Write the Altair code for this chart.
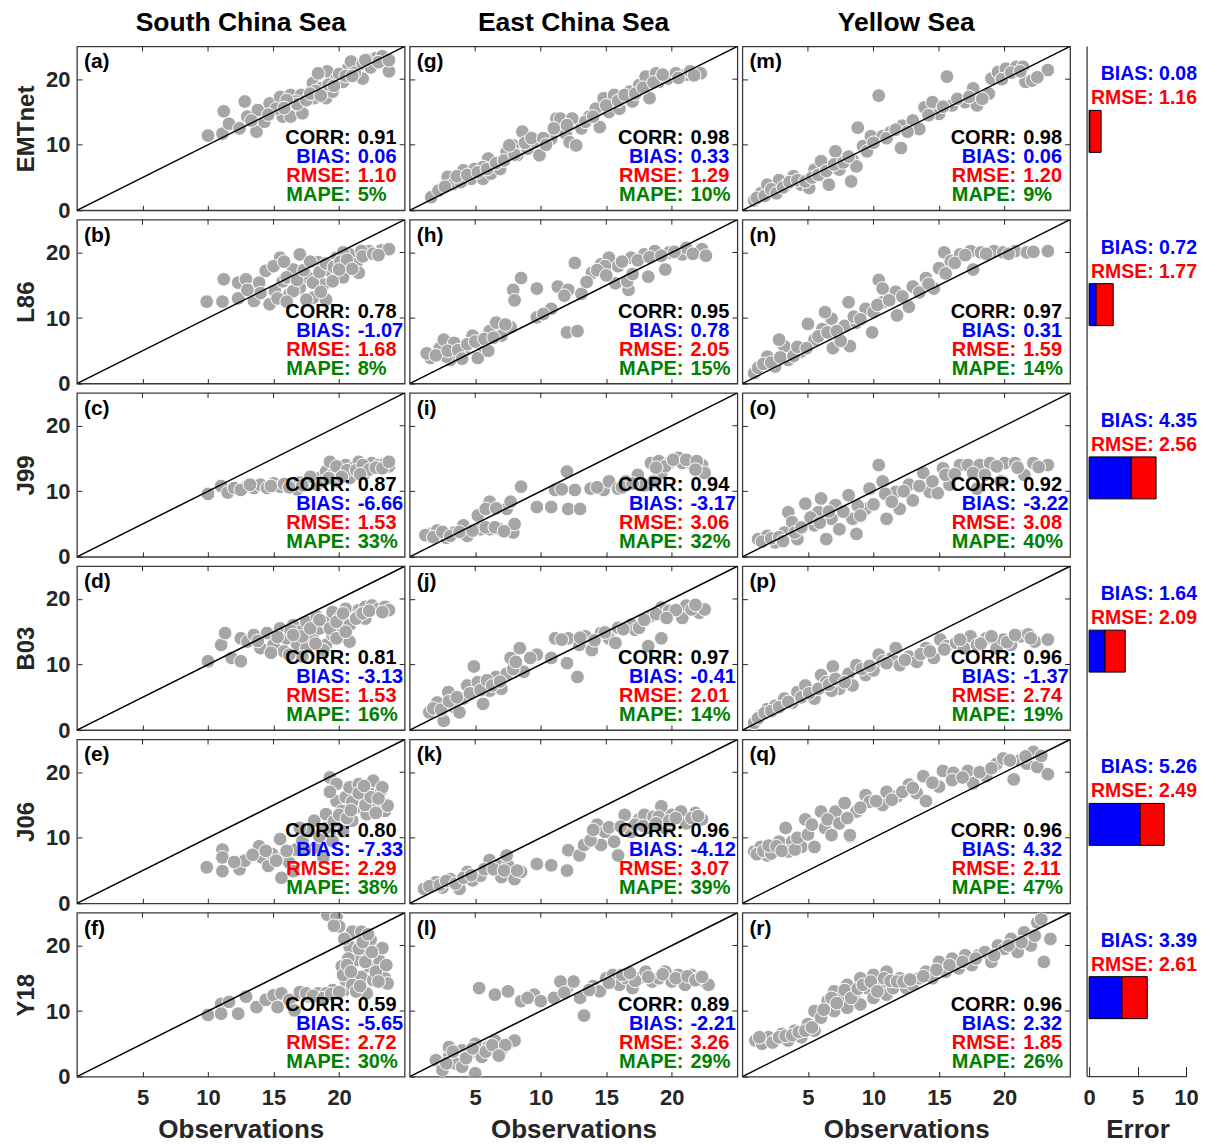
import altair as alt
import pandas as pd

# ---------------- data ----------------
REGIONS = ["South China Sea", "East China Sea", "Yellow Sea"]
MODELS = ["EMTnet", "L86", "J99", "B03", "J06", "Y18"]
LETTERS = [
    ["(a)", "(b)", "(c)", "(d)", "(e)", "(f)"],
    ["(g)", "(h)", "(i)", "(j)", "(k)", "(l)"],
    ["(m)", "(n)", "(o)", "(p)", "(q)", "(r)"],
]

CORR = [[0.91, 0.78, 0.87, 0.81, 0.80, 0.59],
        [0.98, 0.95, 0.94, 0.97, 0.96, 0.89],
        [0.98, 0.97, 0.92, 0.96, 0.96, 0.96]]
BIAS = [[0.06, -1.07, -6.66, -3.13, -7.33, -5.65],
        [0.33, 0.78, -3.17, -0.41, -4.12, -2.21],
        [0.06, 0.31, -3.22, -1.37, 4.32, 2.32]]
RMSE = [[1.10, 1.68, 1.53, 1.53, 2.29, 2.72],
        [1.29, 2.05, 3.06, 2.01, 3.07, 3.26],
        [1.20, 1.59, 3.08, 2.74, 2.11, 1.85]]
MAPE = [[5, 8, 33, 16, 38, 30],
        [10, 15, 32, 14, 39, 29],
        [9, 14, 40, 19, 47, 26]]

TOTAL_BIAS = [0.08, 0.72, 4.35, 1.64, 5.26, 3.39]
TOTAL_RMSE = [1.16, 1.77, 2.56, 2.09, 2.49, 2.61]

X_TICKS = [5, 10, 15, 20]
Y_TICKS = [0, 10, 20]
ERR_TICKS = [0, 5, 10]
DIAG = [0, 25]

SCS_EMTNET = [(10.0,11.4),(11.2,15.1),(11.1,11.7),(11.6,13.2),(12.4,12.5),(12.8,16.6),(13.0,14.3),(13.7,12.0),
              (13.8,15.3),(14.3,13.5),(14.7,16.3),(15.5,17.3),(15.7,14.3),(16.3,14.3),(16.3,17.6),(17.1,17.6),
              (17.2,14.8),(18.0,19.4),(18.1,17.1),(18.6,18.6),(19.0,17.1),(19.1,21.2),(19.8,20.1),(20.3,19.6),
              (20.7,21.7),(21.5,21.9),(21.8,20.1),(22.6,22.2),(22.8,23.2),(23.6,22.7),(23.8,21.2),(22.1,23.0),
              (20.9,22.7),(19.5,18.1),(18.4,20.9),(15.2,15.5),(16.7,16.6),(23.3,23.5),
              (16.8,16.2),(17.5,16.8),(18.2,18.2),(19.2,19.2),(20.0,20.8),(20.5,20.5),(21.2,21.0),(21.8,22.4),
              (22.4,21.8),(23.0,22.6),(23.8,22.9),(17.8,17.8),(16.0,16.8),(14.6,14.6),(15.8,15.6),(13.3,13.7),
              (19.6,19.0),(22.0,22.9),(21.0,20.5),(18.6,17.5)]
SCS_L86 = [(9.9,12.5),(11.1,12.5),(11.2,15.9),(12.3,15.4),(12.3,13.0),(12.9,15.9),(13.5,12.6),(13.9,15.4),
           (14.4,17.2),(14.7,12.1),(15.1,14.1),(15.5,19.2),(15.7,15.6),(16.2,13.6),(16.5,17.4),(17.0,19.7),
           (17.0,14.6),(17.6,16.2),(18.0,13.1),(18.4,18.5),(18.8,15.1),(19.0,12.8),(19.3,17.2),(19.8,19.2),
           (20.3,16.2),(20.8,19.7),(21.3,18.2),(21.5,16.9),(22.3,20.2),(23.2,20.3),(23.8,20.5),(21.7,20.2),
           (20.3,20.0),(18.0,15.4),(16.5,14.1),(15.0,17.9),
           (16.0,16.2),(16.8,15.8),(17.3,17.3),(17.8,18.6),(18.5,17.0),(19.0,18.3),(19.6,17.8),(20.1,18.6),
           (20.6,18.9),(21.0,17.5),(21.8,19.4),(22.6,19.8),(23.0,19.6),(14.0,13.8),(13.0,14.3),(15.3,13.0),
           (16.0,12.5),(17.5,12.8),(18.6,14.0),(19.5,15.6),(20.0,17.4),(15.8,18.6)]
SCS_J99 = [(10.0,9.6),(11.0,10.8),(11.5,9.8),(12.0,10.5),(13.0,10.8),(13.5,10.5),(14.0,11.0),(14.5,10.5),
           (15.0,11.2),(15.5,10.7),(16.0,11.0),(16.5,10.8),(17.0,11.3),(17.5,11.0),(18.0,11.8),(18.5,12.0),
           (19.0,13.0),(19.3,14.5),(19.5,12.5),(20.0,13.5),(20.3,12.8),(20.5,14.0),(21.0,13.5),(21.5,14.5),
           (21.0,12.5),(22.0,13.8),(22.5,14.3),(23.0,14.0),(23.5,14.2),(22.0,12.8),(19.8,11.5),(18.3,11.0),
           (16.8,10.3),(20.8,12.0),(23.8,13.8),(17.8,12.2),
           (12.5,10.2),(13.2,11.0),(14.8,10.8),(15.8,11.1),(16.2,10.6),(17.2,10.9),(18.8,11.5),(19.8,13.8),
           (20.6,13.2),(21.3,13.2),(21.8,14.0),(22.3,13.3),(22.8,13.6),(23.3,13.5),(23.8,14.5),(20.2,12.2),
           (19.2,12.0),(21.6,12.6)]
SCS_B03 = [(10.0,10.5),(11.0,13.0),(11.3,14.8),(11.8,11.0),(12.5,10.5),(12.5,14.0),(13.0,13.5),(13.5,14.5),
           (14.0,12.5),(14.5,14.8),(15.0,13.0),(15.5,15.5),(15.8,12.0),(16.0,14.0),(16.5,16.0),(16.8,13.0),
           (17.0,15.0),(17.5,12.5),(17.5,16.5),(18.0,14.0),(18.3,17.3),(18.5,15.5),(19.0,13.0),(19.0,16.5),
           (19.5,18.0),(19.5,14.5),(20.0,17.0),(20.2,15.8),(20.5,18.5),(20.8,13.5),(21.0,16.5),(21.5,18.3),
           (21.5,17.5),(22.0,17.0),(22.0,18.8),(22.5,19.0),(23.0,18.5),(23.5,18.8),(23.8,18.3),(17.2,11.2),
           (18.8,12.2),(16.2,11.5),(14.8,11.8),
           (15.3,14.2),(16.3,15.2),(17.2,14.3),(17.8,15.5),(18.5,16.8),(19.3,15.5),(19.8,16.5),(20.3,17.8),
           (20.8,16.0),(21.3,17.0),(21.8,17.8),(22.3,18.2),(23.3,18.0),(18.2,13.2),(19.8,14.0),(20.5,15.0),
           (16.5,14.5),(13.8,13.6)]
SCS_J06 = [(9.9,5.5),(11.1,8.2),(11.1,7.0),(11.1,4.9),(12.4,5.2),(12.8,6.5),(13.9,8.7),(14.1,7.0),
           (14.6,5.7),(14.9,7.5),(15.5,9.8),(15.6,3.9),(15.8,7.0),(16.2,6.2),(16.5,4.9),(16.7,8.2),
           (17.2,9.5),(17.7,11.0),(18.1,12.6),(18.2,8.5),(18.8,7.0),(19.0,13.6),(19.3,19.2),(19.5,11.0),
           (19.8,18.2),(19.8,15.6),(20.2,14.1),(20.5,16.2),(20.8,17.7),(21.0,12.6),(21.3,14.6),(21.5,18.2),
           (21.8,16.2),(22.1,13.6),(22.3,17.4),(22.6,18.7),(22.8,15.1),(23.2,17.2),(23.3,17.7),(23.5,14.1),
           (23.7,14.9),(20.3,11.0),(19.5,9.5),(17.0,11.5),
           (12.0,6.3),(13.4,7.4),(14.4,8.0),(15.2,6.5),(16.0,8.0),(17.4,8.2),(18.5,10.2),(19.0,11.5),
           (19.6,12.5),(20.0,13.5),(20.6,13.0),(21.0,15.5),(21.5,16.8),(22.0,15.0),(22.4,16.2),(23.0,16.0),
           (22.8,13.8),(20.9,14.2),(19.3,17.0),(21.9,17.9)]
SCS_Y18 = [(10.0,9.4),(11.0,11.1),(11.0,9.6),(11.6,11.4),(12.3,9.6),(12.9,12.2),(13.7,10.6),(14.4,11.7),
           (15.0,12.4),(15.3,10.6),(15.6,12.7),(16.2,11.7),(16.6,10.1),(17.0,12.9),(17.7,12.2),(18.4,12.7),
           (19.1,24.7),(19.8,24.4),(20.0,22.9),(20.2,16.8),(20.4,13.2),(20.5,14.7),(20.8,19.8),(21.0,22.1),
           (21.2,17.8),(21.7,22.1),(21.7,15.2),(21.9,18.8),(22.1,12.7),(22.3,16.8),(22.4,20.9),(22.6,14.7),
           (23.1,17.6),(23.3,19.6),(23.5,15.0),(23.7,14.2),(21.4,17.8),(20.7,18.0),(19.5,13.2),(19.0,12.7),
           (17.5,12.7),(18.0,12.3),(18.8,12.0),(19.4,12.6),(20.0,12.9),(20.3,15.5),(20.6,17.0),(21.0,14.0),
           (21.3,13.0),(21.5,19.5),(21.8,20.5),(22.0,17.5),(22.2,21.7),(22.8,16.0),(23.0,14.5),(23.6,17.0),
           (20.9,16.0),(21.6,13.8),(22.5,19.0),(19.6,23.0),(20.4,21.0)]

ECS_EMTNET = [(1.65,2.0),(2.2,3.0),(2.9,5.1),(3.3,4.0),(4.1,6.1),(4.7,4.8),(4.95,6.3),(5.6,4.8),(6.0,7.9),
              (6.2,5.6),(6.9,6.3),(7.4,8.9),(7.9,9.9),(8.2,8.4),(8.6,12.0),(9.0,9.4),(9.6,10.4),(9.9,8.4),
              (10.8,10.9),(11.2,14.0),(11.5,14.0),(11.9,11.7),(12.2,10.4),(12.7,9.9),(12.4,14.0),(13.1,12.5),
              (13.7,14.3),(14.2,15.5),(14.5,12.7),(14.8,17.1),(15.2,15.0),(15.6,17.6),(16.0,15.5),(16.8,18.1),
              (17.0,16.6),(17.5,19.1),(18.0,20.4),(18.3,17.1),(18.8,20.9),(19.0,19.6),(19.7,20.1),(20.3,20.9),
              (21.1,20.7),(21.4,21.2),(22.2,20.9),(5.6,6.6),(3.9,4.3),
              (2.7,3.6),(3.6,5.2),(4.4,5.4),(5.2,5.8),(5.9,6.3),(6.6,7.2),(7.2,7.6),(8.0,8.5),(8.8,10.3),
              (9.3,11.0),(10.2,11.0),(11.0,12.5),(12.0,13.0),(13.4,13.5),(14.0,14.3),(15.0,16.0),(15.9,16.7),
              (16.4,17.6),(17.2,17.8),(17.8,18.7),(18.6,19.5),(19.3,20.7),(20.5,20.2),(21.7,20.6),(7.6,9.9),
              (10.4,10.0)]
ECS_L86 = [(1.6,3.9),(2.3,5.4),(2.6,6.7),(3.1,3.6),(3.4,6.2),(4.1,4.9),(4.8,7.3),(5.2,3.9),(5.6,5.7),
           (6.1,8.0),(6.6,9.3),(7.0,7.3),(7.7,8.6),(7.9,14.3),(8.0,12.7),(8.5,16.1),(9.7,14.5),(9.7,10.1),
           (10.8,11.4),(11.3,14.8),(12.0,7.8),(12.1,14.3),(12.6,18.4),(12.8,8.0),(13.1,13.7),(13.9,16.9),
           (14.6,18.2),(15.2,19.2),(15.7,15.3),(15.9,17.9),(16.7,14.3),(16.9,19.2),(17.9,19.7),(18.2,16.3),
           (18.7,20.2),(19.5,17.4),(19.8,20.0),(20.8,19.7),(21.1,20.7),(22.1,20.0),(22.3,20.5),(14.9,17.9),
           (16.6,15.6),(2.8,4.1),
           (1.3,4.6),(2.0,4.3),(2.9,5.0),(3.7,5.1),(4.4,6.0),(5.0,6.4),(5.7,6.8),(6.4,7.0),(6.0,5.0),
           (4.0,3.8),(7.3,9.0),(10.2,10.6),(11.8,13.4),(13.5,15.5),(14.3,17.3),(15.0,16.5),(16.2,18.6),
           (17.4,18.8),(18.3,19.3),(19.2,19.5),(20.2,20.1),(21.6,19.8),(22.6,19.5),(17.0,16.7)]
ECS_J99 = [(1.5,3.5),(2.1,4.0),(2.8,2.9),(3.4,3.7),(4.4,3.2),(5.2,6.3),(5.4,4.2),(6.1,8.4),(6.1,4.2),
           (6.9,4.2),(7.4,7.3),(7.7,8.4),(7.9,3.7),(8.5,10.7),(9.7,7.6),(10.8,7.6),(11.1,10.2),(12.0,13.0),
           (12.1,7.3),(12.6,10.2),(13.0,7.3),(13.8,10.4),(14.8,10.2),(15.2,11.5),(15.9,10.4),(16.5,11.5),
           (17.4,12.5),(17.9,10.9),(18.4,14.3),(19.0,14.6),(19.2,12.8),(19.8,14.3),(20.5,15.1),(20.8,14.3),
           (21.5,14.3),(22.3,14.0),(22.5,12.8),(4.1,4.8),(8.0,5.0),
           (1.2,3.3),(1.8,3.0),(2.5,3.8),(3.1,3.2),(3.8,3.8),(4.8,4.0),(5.8,4.5),(6.5,4.5),(7.2,3.9),
           (5.8,7.3),(6.6,7.4),(11.6,10.3),(14.3,10.6),(16.2,10.6),(17.0,11.2),(18.6,11.5),(19.5,13.8),
           (20.1,14.8),(21.1,14.8),(21.9,14.6),(21.8,13.3),(18.8,13.6)]
ECS_B03 = [(1.5,2.7),(2.1,4.2),(2.6,1.4),(2.95,5.8),(3.4,3.5),(4.1,4.8),(4.4,6.8),(4.9,9.7),(5.2,7.3),
           (5.6,4.0),(6.1,6.0),(6.6,8.1),(7.0,6.3),(7.4,8.6),(7.7,11.0),(8.4,12.5),(8.7,8.9),(9.7,11.5),
           (10.8,11.0),(11.1,14.0),(12.0,10.2),(12.1,14.0),(12.8,8.1),(12.95,13.0),(13.4,14.3),(13.9,12.2),
           (14.6,14.8),(15.2,14.0),(15.7,13.3),(15.9,15.6),(16.9,16.1),(18.2,12.8),(18.4,17.4),(19.2,14.0),
           (19.2,18.7),(19.8,18.2),(20.8,17.1),(21.1,19.0),(22.1,17.9),(22.5,18.4),(17.2,15.3),(3.8,2.7),
           (1.8,3.3),(2.4,3.1),(3.0,4.4),(3.6,5.0),(4.6,5.6),(5.4,6.1),(5.9,7.6),(6.3,6.8),(6.9,7.4),
           (7.9,9.3),(8.1,10.4),(9.2,11.0),(11.6,13.8),(13.0,14.1),(14.1,13.7),(14.9,14.9),(16.3,15.4),
           (17.5,15.6),(17.9,16.8),(18.8,17.7),(20.3,18.3),(21.5,18.4),(21.8,19.1),(19.6,17.1)]
ECS_J06 = [(1.1,2.2),(2.0,3.2),(2.5,2.4),(3.1,3.7),(3.8,2.2),(4.4,4.8),(4.8,3.5),(5.4,4.2),(6.1,6.6),
           (6.7,5.8),(7.0,4.0),(7.5,5.8),(8.0,3.7),(8.5,4.8),(9.7,6.0),(10.8,5.8),(12.0,5.0),(12.1,8.1),
           (12.95,7.3),(13.3,8.9),(14.3,12.0),(14.6,8.9),(14.9,10.9),(15.6,9.4),(15.9,7.3),(16.4,13.5),
           (16.9,10.9),(17.5,12.8),(18.2,11.5),(19.2,14.8),(19.5,11.5),(20.0,13.5),(20.7,14.0),(21.1,12.2),
           (21.8,13.8),(22.3,12.8),(17.9,13.5),(7.4,7.3),
           (1.5,2.6),(2.3,2.8),(2.8,3.4),(3.5,3.0),(4.1,3.9),(4.7,4.3),(5.7,5.2),(6.4,5.2),(7.2,5.0),
           (8.2,5.0),(13.8,9.6),(14.0,11.2),(15.2,11.6),(16.1,11.7),(17.2,12.0),(17.8,11.8),(18.6,13.2),
           (19.0,13.2),(19.8,12.6),(20.3,13.0),(21.5,13.0),(22.0,13.3),(18.8,12.2)]
ECS_Y18 = [(2.0,2.5),(2.5,1.0),(3.0,3.0),(3.5,2.0),(4.0,4.0),(4.5,3.5),(5.0,0.5),(5.0,5.0),(5.5,3.0),
           (6.0,4.5),(6.5,5.5),(7.0,4.0),(7.5,5.0),(8.0,5.5),(3.0,4.5),(4.0,1.5),(5.3,13.5),(6.5,12.5),
           (7.5,13.0),(8.5,11.5),(9.5,12.5),(10.0,11.5),(11.0,12.0),(12.0,13.5),(12.5,14.5),(13.0,12.0),
           (13.3,9.3),(14.0,13.8),(14.5,13.0),(15.0,15.0),(15.5,15.5),(16.0,14.0),(16.5,15.0),(17.0,13.5),
           (17.5,15.0),(18.0,16.0),(18.5,14.5),(19.0,15.0),(19.5,16.0),(20.0,14.5),(20.5,15.5),(21.0,14.0),
           (21.5,15.5),(22.0,15.0),(22.5,14.5),(22.8,14.0),(11.5,14.5),
           (2.8,2.0),(3.3,3.8),(4.3,2.8),(4.8,4.3),(5.8,3.8),(6.3,4.8),(7.3,4.8),(6.8,3.2),(13.7,13.2),
           (15.2,14.3),(16.2,15.5),(17.2,14.6),(18.2,15.2),(19.3,15.6),(20.3,15.0),(21.2,15.3),(21.8,14.7),
           (22.3,15.2),(9.0,12.0),(11.8,12.8),(16.8,15.8)]

YS_EMTNET = [(0.9,1.5),(1.4,2.6),(1.9,3.9),(2.5,3.1),(2.8,4.6),(3.4,3.9),(3.9,5.2),(4.5,3.9),(5.1,3.4),
             (5.5,6.2),(6.0,7.5),(6.2,5.2),(6.6,3.9),(7.1,9.0),(7.4,6.2),(8.3,4.4),(8.4,7.7),(8.8,12.6),
             (9.2,9.8),(9.8,11.3),(10.4,17.5),(10.7,11.3),(11.3,11.9),(12.1,9.5),(12.2,12.9),(13.0,13.7),
             (13.5,12.4),(13.9,15.7),(14.5,16.5),(15.0,14.7),(15.6,20.4),(16.0,16.0),(17.0,16.5),(17.6,18.6),
             (17.9,16.0),(18.8,17.8),(19.0,20.1),(19.5,21.1),(20.1,21.6),(20.9,21.9),(21.6,19.6),(22.1,19.8),
             (23.3,21.4),(21.4,21.9),(8.7,6.7),
             (1.1,1.9),(1.7,2.2),(2.2,3.2),(2.6,2.6),(3.1,3.5),(3.6,4.3),(4.2,4.6),(4.8,4.4),(5.3,5.0),
             (5.8,5.4),(6.4,6.0),(7.0,7.0),(7.7,7.3),(8.1,8.2),(9.5,9.0),(10.0,10.3),(11.0,11.0),(11.7,12.3),
             (12.6,12.0),(14.2,14.5),(15.3,15.8),(16.4,17.0),(17.3,17.3),(18.3,17.0),(19.8,20.0),(20.5,21.0),
             (21.2,21.2),(22.5,20.3)]
YS_L86 = [(0.9,1.6),(1.9,4.1),(2.5,2.6),(3.2,5.7),(3.5,3.6),(4.5,4.9),(5.0,9.1),(5.5,6.7),(6.1,8.3),
          (6.8,9.9),(6.9,5.4),(7.8,8.8),(8.2,5.7),(8.7,9.3),(9.4,11.4),(9.9,7.8),(10.0,10.9),(10.4,15.8),
          (10.7,12.4),(11.7,14.0),(11.8,10.4),(12.7,11.7),(13.0,14.8),(14.0,16.1),(14.6,14.5),(15.0,17.6),
          (15.4,20.0),(15.9,18.7),(16.6,19.7),(17.4,20.2),(17.6,17.4),(18.2,20.0),(19.2,20.2),(19.9,20.0),
          (20.8,20.2),(21.7,20.0),(23.3,20.2),(8.1,12.4),(10.7,14.5),(2.8,6.7),(6.3,10.9),
          (1.2,2.4),(1.6,3.0),(2.2,3.2),(2.9,4.0),(3.9,4.2),(4.2,5.6),(4.9,5.4),(5.8,7.2),(6.5,7.8),
          (7.2,8.0),(7.5,6.5),(8.5,10.2),(9.0,9.8),(10.3,12.0),(11.2,12.7),(12.2,13.3),(13.5,13.9),
          (14.2,15.2),(15.5,16.8),(16.2,18.4),(17.0,19.6),(18.6,19.8),(20.3,19.8),(22.2,20.1)]
YS_J99 = [(1.2,2.7),(1.9,3.2),(2.5,2.2),(3.2,3.7),(3.5,6.8),(3.8,5.3),(4.2,2.7),(4.8,8.1),(5.5,4.8),
          (5.8,6.8),(6.0,8.9),(6.4,2.7),(6.8,5.8),(7.1,7.9),(7.4,4.2),(8.1,9.4),(8.4,5.8),(9.4,7.3),
          (9.7,10.4),(10.4,14.0),(10.7,11.5),(11.0,5.8),(11.7,9.9),(12.0,7.3),(12.7,11.0),(13.0,8.6),
          (13.8,12.8),(14.3,9.9),(14.9,9.7),(15.3,13.5),(15.8,11.0),(16.6,14.0),(17.2,14.0),(18.1,14.0),
          (18.9,14.3),(19.7,11.5),(20.0,14.3),(20.8,14.3),(21.5,12.5),(22.2,14.3),(23.3,14.0),(17.9,10.4),
          (8.7,3.5),
          (1.5,2.3),(2.2,2.8),(2.8,3.0),(3.1,2.4),(4.0,3.7),(4.5,4.5),(5.2,6.0),(5.9,5.2),(6.6,6.9),
          (7.7,6.9),(8.8,7.8),(9.0,6.3),(10.0,8.0),(10.9,9.6),(11.4,8.4),(12.3,10.0),(13.5,10.8),
          (14.5,11.5),(15.5,12.5),(16.2,12.6),(17.6,12.8),(18.5,12.5),(19.4,13.8),(21.0,13.6),(22.6,13.7)]
YS_B03 = [(0.9,1.1),(1.4,2.2),(1.9,3.2),(2.5,3.7),(3.2,4.8),(3.8,4.2),(4.2,5.8),(4.8,6.8),(5.5,4.8),
          (6.0,8.4),(6.4,7.3),(6.9,9.7),(7.4,6.3),(8.1,8.6),(8.4,6.8),(8.7,9.9),(9.4,8.4),(10.0,9.1),
          (10.4,11.5),(11.4,11.0),(12.0,9.9),(12.7,11.2),(13.3,10.4),(14.0,12.5),(14.6,11.0),(15.1,13.8),
          (15.6,12.8),(16.3,13.3),(16.9,12.5),(17.4,14.3),(17.9,13.0),(18.6,14.0),(19.4,12.5),(19.9,13.8),
          (20.5,13.0),(21.2,14.3),(21.8,14.6),(22.3,13.5),(23.3,13.8),(6.8,6.0),(11.7,12.5),
          (1.2,1.8),(1.7,2.6),(2.2,2.9),(2.8,3.5),(3.5,4.3),(4.5,5.0),(5.1,5.6),(5.8,6.3),(6.6,6.9),
          (7.1,7.8),(7.8,7.3),(9.1,9.3),(9.7,9.8),(10.7,10.5),(11.0,10.2),(12.4,10.7),(13.6,11.6),
          (14.3,12.0),(15.4,12.3),(16.6,13.8),(18.2,13.2),(19.0,14.3),(20.2,13.4),(20.8,14.5),(22.0,14.0)]
YS_J06 = [(0.9,7.9),(1.4,8.6),(1.9,7.3),(2.5,8.1),(2.8,9.4),(3.3,11.5),(3.8,9.4),(4.5,8.6),(4.8,12.8),
          (5.5,8.6),(6.0,14.0),(6.3,11.5),(6.8,10.4),(7.1,14.0),(7.8,15.3),(8.2,10.2),(8.7,14.0),(9.4,16.5),
          (9.7,15.5),(10.7,15.0),(11.0,17.0),(11.8,16.3),(12.7,18.1),(13.3,16.8),(13.8,19.4),(14.0,15.6),
          (15.0,17.8),(15.3,20.2),(16.1,19.9),(17.2,20.2),(17.6,18.3),(18.6,19.4),(19.4,21.3),(19.9,22.1),
          (20.7,18.9),(21.2,21.8),(21.7,21.3),(22.2,23.1),(22.5,20.8),(23.3,19.7),(3.5,7.9),(8.2,10.4),
          (1.1,7.5),(1.6,8.0),(2.2,7.6),(2.0,8.8),(2.6,8.7),(3.0,8.0),(4.0,8.2),(4.2,10.0),(5.0,10.5),
          (5.3,12.0),(6.5,12.8),(7.4,12.2),(8.0,13.0),(9.0,14.6),(10.2,15.6),(11.4,15.8),(12.2,17.0),
          (13.0,17.6),(14.5,18.4),(16.0,18.8),(16.8,19.2),(18.1,20.0),(19.0,20.6),(20.4,21.8),(21.6,22.4),
          (22.8,22.5)]
YS_Y18 = [(1.0,5.5),(1.5,5.0),(2.0,6.0),(2.5,5.5),(3.0,6.5),(3.5,5.5),(4.0,7.0),(4.5,6.0),(5.0,8.0),
          (5.5,7.0),(5.5,10.0),(6.0,9.0),(6.5,11.5),(7.0,10.0),(7.0,13.0),(7.5,12.0),(8.0,14.0),(8.0,10.5),
          (8.5,12.5),(9.0,15.0),(9.0,11.0),(9.5,13.5),(10.0,12.0),(10.0,15.5),(10.5,14.0),(11.0,16.0),
          (11.0,12.5),(11.5,13.5),(12.0,15.0),(12.5,13.5),(13.0,14.0),(13.5,15.0),(14.0,16.0),(14.5,15.0),
          (15.0,17.5),(15.5,16.0),(16.0,18.0),(16.5,16.5),(17.0,18.5),(17.5,17.0),(18.0,18.5),(18.5,19.0),
          (19.0,17.5),(19.5,20.0),(20.0,19.5),(20.5,21.0),(21.0,19.0),(21.5,22.0),(22.0,20.0),(22.5,23.5),
          (23.0,17.5),(23.5,21.0),(22.8,24.0),
          (1.3,6.0),(2.3,5.2),(2.8,6.0),(3.3,6.2),(3.8,6.3),(4.3,6.8),(4.8,7.0),(5.3,7.5),(6.2,10.2),
          (6.8,12.0),(7.2,11.2),(7.8,13.2),(8.3,12.0),(8.8,13.4),(9.2,14.0),(9.8,14.5),(10.3,13.0),
          (10.8,15.0),(11.3,14.6),(11.8,14.5),(12.3,14.5),(12.8,14.8),(13.8,15.3),(14.8,16.3),(15.8,17.0),
          (16.8,17.5),(17.8,18.0),(19.2,18.5),(20.3,20.0),(21.3,20.5),(22.3,21.5)]

POINTS = [
    [SCS_EMTNET, SCS_L86, SCS_J99, SCS_B03, SCS_J06, SCS_Y18],
    [ECS_EMTNET, ECS_L86, ECS_J99, ECS_B03, ECS_J06, ECS_Y18],
    [YS_EMTNET, YS_L86, YS_J99, YS_B03, YS_J06, YS_Y18],
]

# ---------------- style ----------------
FONT = "Liberation Sans"
DARK = "#262626"
FRAME = "#3a3a3a"
GRAY = "#A6A6A6"
BLUE = "#0000FF"
RED = "#FF0000"
GREEN = "#008000"
NB = "\u00a0"

W, H = 328, 164
BW = 111
ERR_RANGE = [14, 111]

STAT_FS = 20
TICK_FS = 22


def stat_rows(ci, ri):
    c, b, r, m = CORR[ci][ri], BIAS[ci][ri], RMSE[ci][ri], MAPE[ci][ri]
    bias_txt = f"{b:.2f}" if b < 0 else NB + f"{b:.2f}"
    mape_txt = (NB + f"{m}%") if m < 10 else f"{m}%"
    rows = [("CORR:", NB + f"{c:.2f}", "black"),
            ("BIAS:", bias_txt, BLUE),
            ("RMSE:", NB + f"{r:.2f}", RED),
            ("MAPE:", mape_txt, GREEN)]
    return pd.DataFrame({
        "name": [x[0] for x in rows],
        "val": [x[1] for x in rows],
        "color": [x[2] for x in rows],
        "py": [92 + 19 * i for i in range(4)],
    })


def scatter_panel(ci, ri):
    df = pd.DataFrame(POINTS[ci][ri], columns=["obs", "est"])
    first_col = ci == 0
    last_row = ri == len(MODELS) - 1

    xa = dict(values=X_TICKS, domain=False, grid=False, tickSize=5, offset=-5,
              tickColor=DARK, tickWidth=1, labels=last_row, title="")
    if last_row:
        xa.update(title="Observations", labelFont=FONT, labelFontSize=TICK_FS, labelFontWeight="bold",
                  labelColor=DARK, labelPadding=11, titleFont=FONT, titleFontSize=26,
                  titleFontWeight="bold", titleColor=DARK, titlePadding=8)
    ya = dict(values=Y_TICKS, domain=False, grid=False, tickSize=5, offset=-5,
              tickColor=DARK, tickWidth=1, labels=first_col, title="")
    if first_col:
        ya.update(title=MODELS[ri], labelFont=FONT, labelFontSize=TICK_FS, labelFontWeight="bold",
                  labelColor=DARK, labelPadding=7, titleFont=FONT, titleFontSize=24,
                  titleFontWeight="bold", titleColor=DARK, titlePadding=7)

    sx = alt.Scale(domain=[0, 25], nice=False, zero=False)
    sy = alt.Scale(domain=[0, 25], nice=False, zero=False)
    x = alt.X("obs:Q", scale=sx, axis=alt.Axis(**xa))
    y = alt.Y("est:Q", scale=sy, axis=alt.Axis(**ya))

    pts = alt.Chart(df).mark_circle(size=190, color=GRAY, opacity=1, stroke="white",
                                    strokeWidth=1, clip=True).encode(x=x, y=y)
    diag = alt.Chart(pd.DataFrame({"obs": DIAG, "est": DIAG})).mark_line(
        color="black", strokeWidth=1.5, clip=True).encode(x=x, y=y)

    # inward ticks on the top and right edges (box on)
    top_ticks = alt.Chart(pd.DataFrame({"obs": X_TICKS})).mark_rule(
        color=DARK, strokeWidth=1).encode(x=x, y=alt.value(0), y2=alt.value(5))
    right_ticks = alt.Chart(pd.DataFrame({"est": Y_TICKS[1:]})).mark_rule(
        color=DARK, strokeWidth=1).encode(y=y, x=alt.value(W - 5), x2=alt.value(W))

    letter = alt.Chart(pd.DataFrame({"t": [LETTERS[ci][ri]]})).mark_text(
        align="left", baseline="middle", font=FONT, fontWeight="bold", fontSize=21, color="black"
    ).encode(x=alt.value(7), y=alt.value(16), text="t:N")

    sdf = stat_rows(ci, ri)
    names = alt.Chart(sdf).mark_text(align="right", baseline="middle", font=FONT,
                                     fontWeight="bold", fontSize=STAT_FS).encode(
        x=alt.value(274), y=alt.Y("py:Q", scale=None), text="name:N",
        color=alt.Color("color:N", scale=None))
    vals = alt.Chart(sdf).mark_text(align="left", baseline="middle", font=FONT,
                                    fontWeight="bold", fontSize=STAT_FS).encode(
        x=alt.value(281), y=alt.Y("py:Q", scale=None), text="val:N",
        color=alt.Color("color:N", scale=None))

    layer = alt.layer(pts, diag, top_ticks, right_ticks, letter, names, vals).properties(width=W, height=H)
    if ri == 0:
        layer = layer.properties(title=alt.TitleParams(
            REGIONS[ci], font=FONT, fontSize=26.5, fontWeight="bold", color="black",
            anchor="middle", offset=9))
    return layer


def bar_panel(ri):
    b, r = TOTAL_BIAS[ri], TOTAL_RMSE[ri]
    last_row = ri == len(MODELS) - 1
    df = pd.DataFrame({"model": [MODELS[ri]] * 2, "seg": ["BIAS", "RMSE"],
                       "start": [0, b], "end": [b, b + r]})
    xs = alt.Scale(domain=[0, 10], range=ERR_RANGE, nice=False, zero=False)
    if last_row:
        xaxis = alt.Axis(values=ERR_TICKS, domain=False, grid=False, tickSize=10, offset=-10,
                         tickColor=DARK, tickWidth=1, labelFlush=False, labelFont=FONT,
                         labelFontSize=TICK_FS, labelFontWeight="bold", labelColor=DARK,
                         labelPadding=11, title="Error", titleFont=FONT, titleFontSize=26,
                         titleFontWeight="bold", titleColor=DARK, titlePadding=8)
        x = alt.X("start:Q", scale=xs, axis=xaxis)
    else:
        x = alt.X("start:Q", scale=xs, axis=None)

    bars = alt.Chart(df).mark_bar(size=42, stroke="black", strokeWidth=1, yOffset=3).encode(
        x=x, x2="end:Q",
        y=alt.Y("model:N", axis=None),
        color=alt.Color("seg:N", scale=alt.Scale(domain=["BIAS", "RMSE"], range=[BLUE, RED]),
                        legend=None),
    )
    one = pd.DataFrame({"k": [0]})
    y_top = 0 if ri == 0 else -5
    y_bot = H if last_row else H + 5
    vline = alt.Chart(one).mark_rule(color=FRAME, strokeWidth=1.3).encode(
        x=alt.value(ERR_RANGE[0] - 2), y=alt.value(y_top), y2=alt.value(y_bot))
    layers = [vline, bars]
    if last_row:
        hline = alt.Chart(one).mark_rule(color=FRAME, strokeWidth=1.3).encode(
            x=alt.value(ERR_RANGE[0] - 2), x2=alt.value(ERR_RANGE[1]), y=alt.value(H))
        layers.append(hline)

    tdf = pd.DataFrame({"t": [f"BIAS: {b:.2f}", f"RMSE: {r:.2f}"],
                        "color": [BLUE, RED], "py": [28, 52]})
    txt = alt.Chart(tdf).mark_text(align="right", baseline="middle", font=FONT,
                                   fontWeight="bold", fontSize=19.5).encode(
        x=alt.value(122), y=alt.Y("py:Q", scale=None), text="t:N",
        color=alt.Color("color:N", scale=None))
    layers.append(txt)
    return alt.layer(*layers).properties(
        width=BW, height=H, view=alt.ViewBackground(stroke="transparent"))


charts = []
for ri in range(len(MODELS)):
    for ci in range(len(REGIONS)):
        charts.append(scatter_panel(ci, ri))
    charts.append(bar_panel(ri))

chart = alt.concat(
    *charts, columns=4, spacing={"row": 9.4, "column": 5}, bounds="flush", align="each"
).properties(
    padding={"left": 5, "top": 1, "right": 0, "bottom": 0}
).configure_view(stroke=FRAME, strokeWidth=1.3)

chart.save("out.html", embed_options={"renderer": "svg", "actions": False})
